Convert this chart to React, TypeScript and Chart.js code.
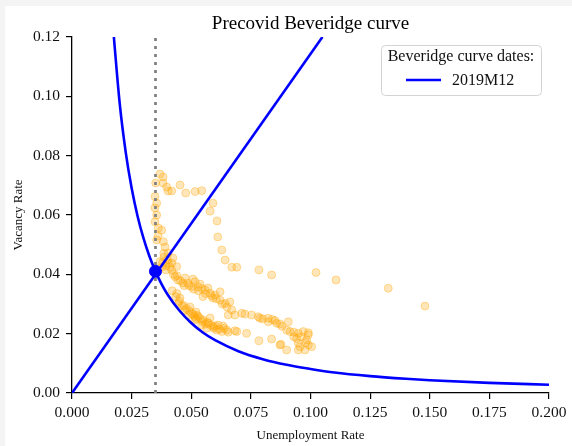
import React, { useEffect, useRef } from "react";
import { Chart, registerables } from "chart.js";

Chart.register(...registerables);

// ---- Data ----
const chartTitle = "Precovid Beveridge curve";
const xAxisTitle = "Unemployment Rate";
const yAxisTitle = "Vacancy Rate";
const legendTitle = "Beveridge curve dates:";
const legendLabel = "2019M12";

const xTicks = [0, 0.025, 0.05, 0.075, 0.1, 0.125, 0.15, 0.175, 0.2];
const yTicks = [0, 0.02, 0.04, 0.06, 0.08, 0.1, 0.12];

// Observed (unemployment, vacancy) pairs
const unempRate = [
  0.0369, 0.0382, 0.0351, 0.0382, 0.0397, 0.0403, 0.0418, 0.0453, 0.0477, 0.0516,
  0.0544, 0.0348, 0.0355, 0.0348, 0.0355, 0.0348, 0.0362, 0.0376, 0.0591, 0.0579,
  0.0608, 0.0611, 0.0628, 0.0642, 0.0670, 0.0691, 0.0784, 0.0837, 0.1023, 0.1107,
  0.1326, 0.1480, 0.0355, 0.0383, 0.0361, 0.0390, 0.0403, 0.0423, 0.0418, 0.0439,
  0.0369, 0.0403, 0.0386, 0.0377, 0.0394, 0.0418, 0.0432, 0.0444, 0.0465, 0.0486,
  0.0502, 0.0516, 0.0528, 0.0558, 0.0549, 0.0579, 0.0591, 0.0621, 0.0621, 0.0642,
  0.0670, 0.0655, 0.0683, 0.0712, 0.0725, 0.0753, 0.0781, 0.0823, 0.0823, 0.0858,
  0.0907, 0.0900, 0.0914, 0.0949, 0.0970, 0.0991, 0.0942, 0.0984, 0.0949, 0.1005,
  0.0949, 0.0977, 0.0788, 0.0851, 0.0872, 0.0991, 0.0991, 0.0956, 0.0872, 0.0691,
  0.0732, 0.0784, 0.0837, 0.0876, 0.0900, 0.0446, 0.0474, 0.0502, 0.0530, 0.0551,
  0.0572, 0.0592, 0.0607, 0.0628, 0.0649, 0.0683, 0.0488, 0.0516, 0.0544, 0.0565,
  0.0453, 0.0461, 0.0495, 0.0520, 0.0579, 0.0612, 0.0633, 0.0474, 0.0507, 0.0537,
  0.0570, 0.0600, 0.0662, 0.0420, 0.0435, 0.0440,
  0.0450, 0.0468, 0.0480, 0.0492, 0.0508, 0.0515, 0.0525, 0.0538, 0.0548, 0.0560,
  0.0568, 0.0582, 0.0595, 0.0600, 0.0618, 0.0638, 0.0655, 0.0520, 0.0425, 0.0440,
  0.0455, 0.0470, 0.0490, 0.0510, 0.0530, 0.0545, 0.0560, 0.0585, 0.0605, 0.0630,
  0.0650, 0.0380, 0.0400, 0.0410, 0.0385, 0.0395, 0.0800, 0.0840, 0.0880, 0.0930,
  0.0960, 0.0930, 0.0980,
];
const vacancyRate = [
  0.0738, 0.0728, 0.0708, 0.0708, 0.0694, 0.0681, 0.0681, 0.0701, 0.0674, 0.0679,
  0.0682, 0.0662, 0.0640, 0.0624, 0.0600, 0.0577, 0.0556, 0.0549, 0.0640, 0.0613,
  0.0580, 0.0526, 0.0482, 0.0448, 0.0424, 0.0424, 0.0415, 0.0398, 0.0406, 0.0381,
  0.0353, 0.0293, 0.0516, 0.0510, 0.0529, 0.0492, 0.0472, 0.0455, 0.0438, 0.0426,
  0.0443, 0.0438, 0.0458, 0.0425, 0.0415, 0.0415, 0.0392, 0.0381, 0.0371, 0.0370,
  0.0358, 0.0375, 0.0358, 0.0347, 0.0325, 0.0336, 0.0320, 0.0341, 0.0313, 0.0302,
  0.0280, 0.0263, 0.0263, 0.0269, 0.0266, 0.0263, 0.0257, 0.0252, 0.0240, 0.0235,
  0.0240, 0.0212, 0.0207, 0.0201, 0.0207, 0.0203, 0.0184, 0.0179, 0.0168, 0.0156,
  0.0145, 0.0145, 0.0252, 0.0244, 0.0233, 0.0196, 0.0162, 0.0156, 0.0162, 0.0207,
  0.0201, 0.0176, 0.0182, 0.0164, 0.0145, 0.0302, 0.0280, 0.0269, 0.0257, 0.0246,
  0.0235, 0.0223, 0.0212, 0.0207, 0.0212, 0.0210, 0.0263, 0.0246, 0.0229, 0.0218,
  0.0320, 0.0293, 0.0290, 0.0273, 0.0253, 0.0229, 0.0226, 0.0388, 0.0384, 0.0367,
  0.0354, 0.0330, 0.0307, 0.0345, 0.0325, 0.0335,
  0.0310, 0.0295, 0.0285, 0.0276, 0.0265, 0.0258, 0.0262, 0.0250, 0.0240, 0.0232,
  0.0238, 0.0228, 0.0218, 0.0226, 0.0215, 0.0218, 0.0205, 0.0250, 0.0400, 0.0395,
  0.0378, 0.0362, 0.0362, 0.0350, 0.0345, 0.0352, 0.0335, 0.0328, 0.0318, 0.0300,
  0.0290, 0.0440, 0.0450, 0.0425, 0.0470, 0.0430, 0.0250, 0.0248, 0.0225, 0.0205,
  0.0190, 0.0190, 0.0170,
];

// Beveridge curve (2019M12)
const curveU = [
  0.0172, 0.02, 0.0225, 0.025, 0.0275, 0.03, 0.0325, 0.035, 0.0375, 0.04, 0.045,
  0.05, 0.055, 0.06, 0.07, 0.08, 0.09, 0.1, 0.11, 0.125, 0.14, 0.15, 0.175, 0.2,
];
const curveV = [
  0.1233, 0.0976, 0.0813, 0.0691, 0.0596, 0.0521, 0.046, 0.041, 0.0368, 0.0333,
  0.0278, 0.0236, 0.0203, 0.0178, 0.014, 0.0114, 0.0095, 0.0081, 0.0069, 0.0057,
  0.0048, 0.0043, 0.0034, 0.0028,
];

// Straight ray through the origin and the equilibrium point
const rayU = [0, 0.105];
const rayV = [0, 0.12];

// Equilibrium point and vertical dotted reference line
const eqU = [0.035];
const eqV = [0.041];
const refLineU = [0.035, 0.035];
const refLineV = [0, 0.12];

const FONT = '"Liberation Serif", "Times New Roman", serif';

const zip = (xs: number[], ys: number[]) => xs.map((x, i) => ({ x, y: ys[i] }));

const overlayPlugin = {
  id: "overlayTitleLegend",
  afterDraw(chart: any) {
    const { ctx, chartArea } = chart;
    ctx.save();
    ctx.fillStyle = "#000";
    ctx.font = `19px ${FONT}`;
    ctx.textAlign = "center";
    ctx.textBaseline = "middle";
    ctx.fillText(chartTitle, (chartArea.left + chartArea.right) / 2, 17.8);

    const w = 160;
    const h = 50;
    const x0 = Math.round(chartArea.right - 8 - w);
    const y0 = Math.round(chartArea.top + 8);
    ctx.beginPath();
    ctx.roundRect(x0 + 0.5, y0 + 0.5, w, h, 4);
    ctx.fillStyle = "rgba(255,255,255,0.85)";
    ctx.fill();
    ctx.strokeStyle = "#d3d3d3";
    ctx.lineWidth = 1;
    ctx.stroke();

    ctx.fillStyle = "#111";
    ctx.font = `16px ${FONT}`;
    ctx.textAlign = "center";
    ctx.fillText(legendTitle, x0 + w / 2, y0 + 12);

    ctx.strokeStyle = "#0000ff";
    ctx.lineWidth = 2.6;
    ctx.beginPath();
    ctx.moveTo(x0 + 25, y0 + 35);
    ctx.lineTo(x0 + 60, y0 + 35);
    ctx.stroke();

    ctx.textAlign = "left";
    ctx.fillText(legendLabel, x0 + 71, y0 + 35.5);
    ctx.restore();
  },
};

export default function App() {
  const ref = useRef<HTMLCanvasElement | null>(null);

  useEffect(() => {
    if (!ref.current) return;
    const chart = new Chart(ref.current, {
      type: "scatter",
      data: {
        datasets: [
          {
            label: "Observed",
            data: zip(unempRate, vacancyRate),
            backgroundColor: "rgba(255,165,0,0.28)",
            borderColor: "rgba(255,165,0,0.34)",
            borderWidth: 1,
            pointRadius: 4,
            order: 5,
          },
          {
            label: "Reference",
            data: zip(refLineU, refLineV),
            showLine: true,
            borderColor: "#808080",
            borderWidth: 2.7,
            borderDash: [3, 5],
            pointRadius: 0,
            order: 4,
          },
          {
            label: "Ray",
            data: zip(rayU, rayV),
            showLine: true,
            borderColor: "#0000ff",
            borderWidth: 2.6,
            pointRadius: 0,
            clip: 0,
            order: 3,
          },
          {
            label: legendLabel,
            data: zip(curveU, curveV),
            showLine: true,
            borderColor: "#0000ff",
            borderWidth: 2.6,
            pointRadius: 0,
            cubicInterpolationMode: "monotone",
            clip: 0,
            order: 2,
          },
          {
            label: "Equilibrium",
            data: zip(eqU, eqV),
            backgroundColor: "#0000ff",
            borderColor: "#0000ff",
            pointRadius: 6,
            order: 1,
          },
        ] as any,
      },
      options: {
        animation: false,
        responsive: false,
        devicePixelRatio: 1,
        layout: { padding: { top: 31, right: 23, left: 0, bottom: 0 } },
        plugins: {
          legend: { display: false },
          tooltip: { enabled: false },
          title: { display: false },
        },
        scales: {
          x: {
            type: "linear",
            min: 0,
            max: 0.2,
            afterBuildTicks: (s: any) => {
              s.ticks = xTicks.map((v) => ({ value: v }));
            },
            afterFit: (s: any) => {
              s.height = 53;
            },
            ticks: {
              callback: (v: any) => Number(v).toFixed(3),
              font: { family: FONT, size: 15.5 },
              color: "#111",
              padding: 5,
              maxRotation: 0,
              autoSkip: false,
            },
            grid: {
              drawOnChartArea: false,
              drawTicks: true,
              tickLength: 6,
              color: "#000",
              lineWidth: 1.2,
            },
            border: { display: true, color: "#000", width: 1.3 },
            title: {
              display: true,
              text: xAxisTitle,
              font: { family: FONT, size: 13 },
              color: "#111",
              padding: { top: 0, bottom: 3 },
            },
          },
          y: {
            type: "linear",
            min: 0,
            max: 0.12,
            afterBuildTicks: (s: any) => {
              s.ticks = yTicks.map((v) => ({ value: v }));
            },
            afterFit: (s: any) => {
              s.width = 67;
            },
            ticks: {
              callback: (v: any) => Number(v).toFixed(2),
              font: { family: FONT, size: 15.5 },
              color: "#111",
              padding: 6,
              autoSkip: false,
            },
            grid: {
              drawOnChartArea: false,
              drawTicks: true,
              tickLength: 6,
              color: "#000",
              lineWidth: 1.2,
            },
            border: { display: true, color: "#000", width: 1.3 },
            title: {
              display: true,
              text: yAxisTitle,
              font: { family: FONT, size: 13 },
              color: "#111",
              padding: { top: 6.2, bottom: 0 },
            },
          },
        },
      } as any,
      plugins: [overlayPlugin],
    });
    return () => chart.destroy();
  }, []);

  return (
    <div
      style={{
        position: "fixed",
        left: 0,
        top: 0,
        width: 572,
        height: 446,
        background: "#f4f4f4",
        overflow: "hidden",
      }}
    >
      <canvas
        ref={ref}
        width={567}
        height={440}
        style={{ position: "absolute", left: 5, top: 6, width: 567, height: 440, background: "#fff" }}
      />
    </div>
  );
}
